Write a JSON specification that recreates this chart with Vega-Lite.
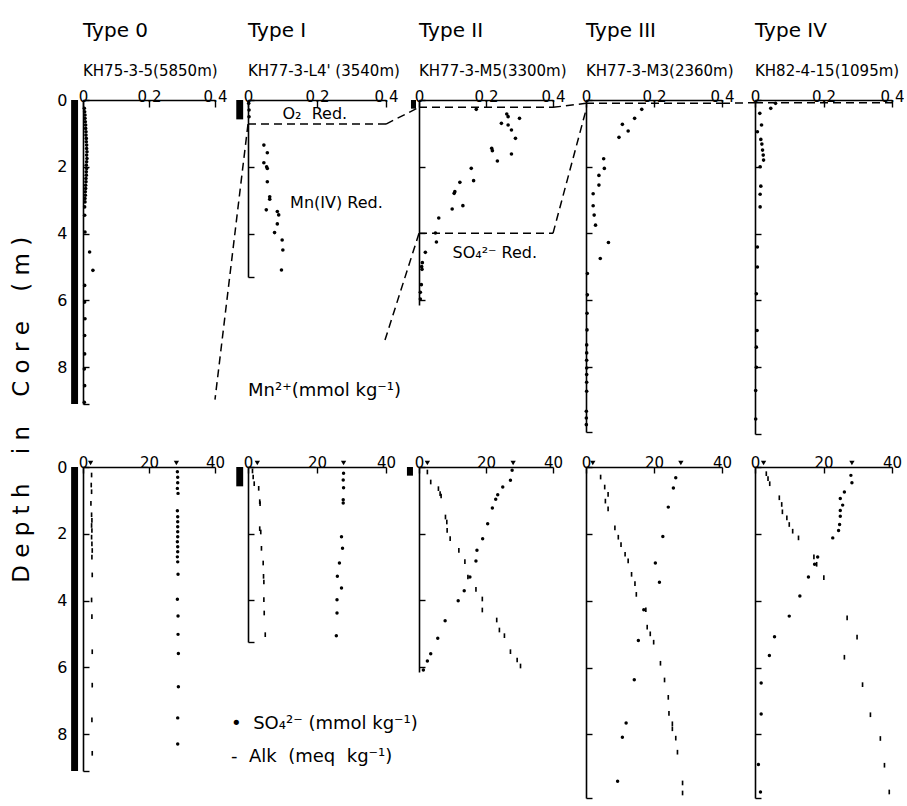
{
  "$schema": "https://vega.github.io/schema/vega-lite/v6.json",
  "background": "white",
  "padding": {"left": 10, "top": 21, "right": 0, "bottom": 4},
  "autosize": {"type": "pad"},
  "config": {
    "view": {"stroke": null},
    "font": "DejaVu Sans",
    "axis": {"domainColor": "black", "domainWidth": 1.6, "tickColor": "black", "tickWidth": 1.4, "labelColor": "black", "grid": false, "title": null, "labelFont": "DejaVu Sans", "labelFlush": false, "labelOverlap": false, "labelBound": false},
    "title": {"color": "black", "subtitleColor": "black", "anchor": "start", "frame": "group", "fontWeight": "normal", "fontSize": 20, "subtitleFontSize": 15, "subtitlePadding": 23, "offset": 10, "font": "DejaVu Sans", "subtitleFont": "DejaVu Sans"},
    "text": {"font": "DejaVu Sans", "color": "black"}
  },
  "title": {"text": "D e p t h \u00a0\u00a0 i n \u00a0\u00a0 C o r e \u00a0\u00a0 ( m )", "orient": "left", "anchor": "middle", "frame": "bounds", "fontSize": 23, "fontWeight": "normal", "offset": 23, "color": "black", "font": "DejaVu Sans"},
  "datasets": {
    "cores": [
      {"type": "0", "from": 0, "to": 9.1},
      {"type": "I", "from": 0, "to": 0.58},
      {"type": "II", "from": 0, "to": 0.26}
    ],
    "zones": [
      {"type": "I", "zone": "O2", "depth": 0.72},
      {"type": "II", "zone": "O2", "depth": 0.22},
      {"type": "II", "zone": "SO4", "depth": 4.0},
      {"type": "III", "zone": "O2", "depth": 0.1},
      {"type": "IV", "zone": "O2", "depth": 0.08}
    ],
    "notes": [
      {"id": "o2", "text": "O₂\u00a0 Red."},
      {"id": "mn4", "text": "Mn(IV) Red."},
      {"id": "mnunit", "text": "Mn²⁺(mmol kg⁻¹)"},
      {"id": "so4", "text": "SO₄²⁻ Red."},
      {"id": "so4unit", "text": "•\u00a0 SO₄²⁻ (mmol kg⁻¹)"},
      {"id": "alkunit", "text": "-\u00a0 Alk\u00a0 (meq\u00a0 kg⁻¹)"}
    ],
    "bw": [
      {"type": "0", "species": "Alk", "value": 2.3}, {"type": "0", "species": "SO4", "value": 28.3},
      {"type": "I", "species": "Alk", "value": 2.7}, {"type": "I", "species": "SO4", "value": 27.7},
      {"type": "II", "species": "Alk", "value": 2.5}, {"type": "II", "species": "SO4", "value": 28.1},
      {"type": "III", "species": "Alk", "value": 2.0}, {"type": "III", "species": "SO4", "value": 27.9},
      {"type": "IV", "species": "Alk", "value": 2.5}, {"type": "IV", "species": "SO4", "value": 28.3}
    ],
    "mn": [
      {"type": "0", "depth": 0.25, "mn": 0.004}, {"type": "0", "depth": 0.35, "mn": 0.005}, {"type": "0", "depth": 0.45, "mn": 0.006}, {"type": "0", "depth": 0.55, "mn": 0.006},
      {"type": "0", "depth": 0.65, "mn": 0.007}, {"type": "0", "depth": 0.75, "mn": 0.008}, {"type": "0", "depth": 0.85, "mn": 0.008}, {"type": "0", "depth": 0.95, "mn": 0.009},
      {"type": "0", "depth": 1.05, "mn": 0.009}, {"type": "0", "depth": 1.15, "mn": 0.01}, {"type": "0", "depth": 1.25, "mn": 0.01}, {"type": "0", "depth": 1.35, "mn": 0.011},
      {"type": "0", "depth": 1.45, "mn": 0.011}, {"type": "0", "depth": 1.55, "mn": 0.012}, {"type": "0", "depth": 1.65, "mn": 0.011}, {"type": "0", "depth": 1.75, "mn": 0.012},
      {"type": "0", "depth": 1.85, "mn": 0.011}, {"type": "0", "depth": 1.95, "mn": 0.01}, {"type": "0", "depth": 2.05, "mn": 0.011}, {"type": "0", "depth": 2.15, "mn": 0.01},
      {"type": "0", "depth": 2.25, "mn": 0.01}, {"type": "0", "depth": 2.35, "mn": 0.009}, {"type": "0", "depth": 2.45, "mn": 0.009}, {"type": "0", "depth": 2.55, "mn": 0.008},
      {"type": "0", "depth": 2.65, "mn": 0.008}, {"type": "0", "depth": 2.75, "mn": 0.007}, {"type": "0", "depth": 2.85, "mn": 0.007}, {"type": "0", "depth": 2.95, "mn": 0.006},
      {"type": "0", "depth": 3.05, "mn": 0.006}, {"type": "0", "depth": 3.2, "mn": 0.005}, {"type": "0", "depth": 3.45, "mn": 0.005}, {"type": "0", "depth": 3.95, "mn": 0.006},
      {"type": "0", "depth": 4.55, "mn": 0.02}, {"type": "0", "depth": 5.1, "mn": 0.03}, {"type": "0", "depth": 5.55, "mn": 0.005}, {"type": "0", "depth": 6.05, "mn": 0.005},
      {"type": "0", "depth": 6.55, "mn": 0.006}, {"type": "0", "depth": 7.05, "mn": 0.005}, {"type": "0", "depth": 7.6, "mn": 0.005}, {"type": "0", "depth": 8.05, "mn": 0.004},
      {"type": "0", "depth": 8.55, "mn": 0.005}, {"type": "0", "depth": 9.05, "mn": 0.004},
      {"type": "I", "depth": 0.1, "mn": 0.002}, {"type": "I", "depth": 0.3, "mn": 0.003}, {"type": "I", "depth": 0.5, "mn": 0.003},
      {"type": "I", "depth": 1.35, "mn": 0.046}, {"type": "I", "depth": 1.58, "mn": 0.056}, {"type": "I", "depth": 1.88, "mn": 0.046}, {"type": "I", "depth": 2.0, "mn": 0.054},
      {"type": "I", "depth": 2.05, "mn": 0.056}, {"type": "I", "depth": 2.45, "mn": 0.056}, {"type": "I", "depth": 2.9, "mn": 0.063}, {"type": "I", "depth": 2.97, "mn": 0.063},
      {"type": "I", "depth": 3.29, "mn": 0.053}, {"type": "I", "depth": 3.34, "mn": 0.085}, {"type": "I", "depth": 3.44, "mn": 0.089}, {"type": "I", "depth": 3.71, "mn": 0.085},
      {"type": "I", "depth": 3.97, "mn": 0.077}, {"type": "I", "depth": 4.19, "mn": 0.099}, {"type": "I", "depth": 4.49, "mn": 0.101}, {"type": "I", "depth": 5.09, "mn": 0.097},
      {"type": "II", "depth": 0.28, "mn": 0.171}, {"type": "II", "depth": 0.42, "mn": 0.262}, {"type": "II", "depth": 0.5, "mn": 0.266}, {"type": "II", "depth": 0.55, "mn": 0.3},
      {"type": "II", "depth": 0.7, "mn": 0.246}, {"type": "II", "depth": 0.75, "mn": 0.266}, {"type": "II", "depth": 0.9, "mn": 0.276}, {"type": "II", "depth": 1.15, "mn": 0.288},
      {"type": "II", "depth": 1.45, "mn": 0.217}, {"type": "II", "depth": 1.52, "mn": 0.219}, {"type": "II", "depth": 1.62, "mn": 0.276}, {"type": "II", "depth": 1.83, "mn": 0.234},
      {"type": "II", "depth": 2.05, "mn": 0.156}, {"type": "II", "depth": 2.42, "mn": 0.163}, {"type": "II", "depth": 2.47, "mn": 0.122}, {"type": "II", "depth": 2.75, "mn": 0.107},
      {"type": "II", "depth": 2.8, "mn": 0.105}, {"type": "II", "depth": 3.17, "mn": 0.131}, {"type": "II", "depth": 3.27, "mn": 0.099}, {"type": "II", "depth": 3.54, "mn": 0.059},
      {"type": "II", "depth": 3.99, "mn": 0.049}, {"type": "II", "depth": 4.26, "mn": 0.052}, {"type": "II", "depth": 4.57, "mn": 0.019}, {"type": "II", "depth": 4.88, "mn": 0.01},
      {"type": "II", "depth": 5.0, "mn": 0.008}, {"type": "II", "depth": 5.08, "mn": 0.009}, {"type": "II", "depth": 5.54, "mn": 0.007}, {"type": "II", "depth": 5.77, "mn": 0.004},
      {"type": "II", "depth": 5.97, "mn": 0.004},
      {"type": "III", "depth": 0.28, "mn": 0.164}, {"type": "III", "depth": 0.55, "mn": 0.143}, {"type": "III", "depth": 0.73, "mn": 0.107}, {"type": "III", "depth": 0.93, "mn": 0.124},
      {"type": "III", "depth": 1.12, "mn": 0.097}, {"type": "III", "depth": 1.76, "mn": 0.052}, {"type": "III", "depth": 2.05, "mn": 0.054}, {"type": "III", "depth": 2.26, "mn": 0.038},
      {"type": "III", "depth": 2.55, "mn": 0.038}, {"type": "III", "depth": 2.81, "mn": 0.021}, {"type": "III", "depth": 3.17, "mn": 0.021}, {"type": "III", "depth": 3.45, "mn": 0.024},
      {"type": "III", "depth": 3.75, "mn": 0.028}, {"type": "III", "depth": 4.27, "mn": 0.066}, {"type": "III", "depth": 4.75, "mn": 0.042}, {"type": "III", "depth": 5.2, "mn": 0.004},
      {"type": "III", "depth": 5.84, "mn": 0.004}, {"type": "III", "depth": 6.39, "mn": 0.003}, {"type": "III", "depth": 6.89, "mn": 0.003}, {"type": "III", "depth": 7.34, "mn": 0.002},
      {"type": "III", "depth": 7.58, "mn": 0.002}, {"type": "III", "depth": 7.8, "mn": 0.002}, {"type": "III", "depth": 8.03, "mn": 0.002}, {"type": "III", "depth": 8.23, "mn": 0.002},
      {"type": "III", "depth": 8.46, "mn": 0.002}, {"type": "III", "depth": 8.73, "mn": 0.002}, {"type": "III", "depth": 9.33, "mn": 0.001}, {"type": "III", "depth": 9.53, "mn": 0.001},
      {"type": "III", "depth": 9.73, "mn": 0.001},
      {"type": "IV", "depth": 0.1, "mn": 0.06}, {"type": "IV", "depth": 0.25, "mn": 0.046}, {"type": "IV", "depth": 0.4, "mn": 0.014}, {"type": "IV", "depth": 0.75, "mn": 0.019},
      {"type": "IV", "depth": 0.95, "mn": 0.007}, {"type": "IV", "depth": 1.18, "mn": 0.017}, {"type": "IV", "depth": 1.32, "mn": 0.02}, {"type": "IV", "depth": 1.5, "mn": 0.022},
      {"type": "IV", "depth": 1.65, "mn": 0.024}, {"type": "IV", "depth": 1.8, "mn": 0.025}, {"type": "IV", "depth": 2.0, "mn": 0.015}, {"type": "IV", "depth": 2.58, "mn": 0.017},
      {"type": "IV", "depth": 2.82, "mn": 0.015}, {"type": "IV", "depth": 3.2, "mn": 0.015}, {"type": "IV", "depth": 4.4, "mn": 0.007}, {"type": "IV", "depth": 5.0, "mn": 0.007},
      {"type": "IV", "depth": 5.8, "mn": 0.004}, {"type": "IV", "depth": 6.9, "mn": 0.006}, {"type": "IV", "depth": 7.4, "mn": 0.004}, {"type": "IV", "depth": 8.0, "mn": 0.004},
      {"type": "IV", "depth": 8.7, "mn": 0.002}, {"type": "IV", "depth": 9.55, "mn": 0.002}
    ],
    "pw": [
      {"type": "0", "species": "SO4", "depth": 0.14, "value": 28.6}, {"type": "0", "species": "SO4", "depth": 0.31, "value": 28.7}, {"type": "0", "species": "SO4", "depth": 0.47, "value": 28.7},
      {"type": "0", "species": "SO4", "depth": 0.64, "value": 28.6}, {"type": "0", "species": "SO4", "depth": 0.79, "value": 28.8}, {"type": "0", "species": "SO4", "depth": 1.31, "value": 28.6},
      {"type": "0", "species": "SO4", "depth": 1.49, "value": 28.7}, {"type": "0", "species": "SO4", "depth": 1.64, "value": 28.7}, {"type": "0", "species": "SO4", "depth": 1.79, "value": 28.7},
      {"type": "0", "species": "SO4", "depth": 1.94, "value": 28.7}, {"type": "0", "species": "SO4", "depth": 2.09, "value": 28.7}, {"type": "0", "species": "SO4", "depth": 2.24, "value": 28.6},
      {"type": "0", "species": "SO4", "depth": 2.39, "value": 28.7}, {"type": "0", "species": "SO4", "depth": 2.54, "value": 28.7}, {"type": "0", "species": "SO4", "depth": 2.69, "value": 28.6},
      {"type": "0", "species": "SO4", "depth": 2.84, "value": 28.7}, {"type": "0", "species": "SO4", "depth": 3.21, "value": 28.8}, {"type": "0", "species": "SO4", "depth": 3.96, "value": 28.6},
      {"type": "0", "species": "SO4", "depth": 4.46, "value": 28.8}, {"type": "0", "species": "SO4", "depth": 5.01, "value": 28.8}, {"type": "0", "species": "SO4", "depth": 5.58, "value": 28.9},
      {"type": "0", "species": "SO4", "depth": 6.58, "value": 28.9}, {"type": "0", "species": "SO4", "depth": 7.51, "value": 28.7}, {"type": "0", "species": "SO4", "depth": 8.29, "value": 28.7},
      {"type": "0", "species": "Alk", "depth": 0.24, "value": 2.6}, {"type": "0", "species": "Alk", "depth": 0.54, "value": 2.5}, {"type": "0", "species": "Alk", "depth": 0.74, "value": 2.6},
      {"type": "0", "species": "Alk", "depth": 1.09, "value": 2.4}, {"type": "0", "species": "Alk", "depth": 1.43, "value": 2.6}, {"type": "0", "species": "Alk", "depth": 1.6, "value": 2.7},
      {"type": "0", "species": "Alk", "depth": 1.75, "value": 2.6}, {"type": "0", "species": "Alk", "depth": 1.9, "value": 2.7}, {"type": "0", "species": "Alk", "depth": 2.1, "value": 2.6},
      {"type": "0", "species": "Alk", "depth": 2.3, "value": 2.7}, {"type": "0", "species": "Alk", "depth": 2.5, "value": 2.8}, {"type": "0", "species": "Alk", "depth": 2.7, "value": 2.7},
      {"type": "0", "species": "Alk", "depth": 3.23, "value": 2.8}, {"type": "0", "species": "Alk", "depth": 3.98, "value": 2.6}, {"type": "0", "species": "Alk", "depth": 4.48, "value": 2.7},
      {"type": "0", "species": "Alk", "depth": 5.53, "value": 2.8}, {"type": "0", "species": "Alk", "depth": 6.53, "value": 2.8}, {"type": "0", "species": "Alk", "depth": 7.57, "value": 2.7},
      {"type": "0", "species": "Alk", "depth": 8.57, "value": 2.8},
      {"type": "I", "species": "SO4", "depth": 0.19, "value": 27.7}, {"type": "I", "species": "SO4", "depth": 0.39, "value": 27.6}, {"type": "I", "species": "SO4", "depth": 0.62, "value": 27.7},
      {"type": "I", "species": "SO4", "depth": 0.98, "value": 27.6}, {"type": "I", "species": "SO4", "depth": 1.08, "value": 27.6}, {"type": "I", "species": "SO4", "depth": 2.09, "value": 27.1},
      {"type": "I", "species": "SO4", "depth": 2.44, "value": 27.4}, {"type": "I", "species": "SO4", "depth": 2.88, "value": 26.5}, {"type": "I", "species": "SO4", "depth": 3.28, "value": 25.9},
      {"type": "I", "species": "SO4", "depth": 3.63, "value": 27.1}, {"type": "I", "species": "SO4", "depth": 3.98, "value": 25.8}, {"type": "I", "species": "SO4", "depth": 4.38, "value": 25.8},
      {"type": "I", "species": "SO4", "depth": 5.06, "value": 25.6},
      {"type": "I", "species": "Alk", "depth": 0.12, "value": 1.3}, {"type": "I", "species": "Alk", "depth": 0.3, "value": 1.5}, {"type": "I", "species": "Alk", "depth": 0.5, "value": 1.8},
      {"type": "I", "species": "Alk", "depth": 0.64, "value": 3.1}, {"type": "I", "species": "Alk", "depth": 1.04, "value": 3.4}, {"type": "I", "species": "Alk", "depth": 1.1, "value": 3.5},
      {"type": "I", "species": "Alk", "depth": 1.85, "value": 3.4}, {"type": "I", "species": "Alk", "depth": 1.95, "value": 3.7}, {"type": "I", "species": "Alk", "depth": 2.44, "value": 3.9},
      {"type": "I", "species": "Alk", "depth": 2.88, "value": 4.4}, {"type": "I", "species": "Alk", "depth": 3.28, "value": 4.5}, {"type": "I", "species": "Alk", "depth": 3.45, "value": 4.6},
      {"type": "I", "species": "Alk", "depth": 3.98, "value": 4.6}, {"type": "I", "species": "Alk", "depth": 4.38, "value": 4.7}, {"type": "I", "species": "Alk", "depth": 5.03, "value": 5.0},
      {"type": "II", "species": "SO4", "depth": 0.1, "value": 27.8}, {"type": "II", "species": "SO4", "depth": 0.4, "value": 27.3}, {"type": "II", "species": "SO4", "depth": 0.6, "value": 25.0},
      {"type": "II", "species": "SO4", "depth": 0.83, "value": 23.5}, {"type": "II", "species": "SO4", "depth": 0.97, "value": 22.9}, {"type": "II", "species": "SO4", "depth": 1.23, "value": 21.9},
      {"type": "II", "species": "SO4", "depth": 1.7, "value": 20.5}, {"type": "II", "species": "SO4", "depth": 2.15, "value": 19.0}, {"type": "II", "species": "SO4", "depth": 2.5, "value": 17.3},
      {"type": "II", "species": "SO4", "depth": 2.82, "value": 17.0}, {"type": "II", "species": "SO4", "depth": 3.3, "value": 15.2}, {"type": "II", "species": "SO4", "depth": 3.71, "value": 13.5},
      {"type": "II", "species": "SO4", "depth": 4.01, "value": 11.7}, {"type": "II", "species": "SO4", "depth": 4.61, "value": 7.8}, {"type": "II", "species": "SO4", "depth": 5.14, "value": 5.6},
      {"type": "II", "species": "SO4", "depth": 5.6, "value": 3.5}, {"type": "II", "species": "SO4", "depth": 5.82, "value": 2.5}, {"type": "II", "species": "SO4", "depth": 6.09, "value": 1.3},
      {"type": "II", "species": "Alk", "depth": 0.15, "value": 2.5}, {"type": "II", "species": "Alk", "depth": 0.45, "value": 3.5}, {"type": "II", "species": "Alk", "depth": 0.65, "value": 5.8},
      {"type": "II", "species": "Alk", "depth": 0.8, "value": 6.3}, {"type": "II", "species": "Alk", "depth": 0.87, "value": 6.6}, {"type": "II", "species": "Alk", "depth": 1.5, "value": 7.9},
      {"type": "II", "species": "Alk", "depth": 1.65, "value": 8.3}, {"type": "II", "species": "Alk", "depth": 1.9, "value": 8.4}, {"type": "II", "species": "Alk", "depth": 2.15, "value": 9.3},
      {"type": "II", "species": "Alk", "depth": 2.5, "value": 11.9}, {"type": "II", "species": "Alk", "depth": 2.84, "value": 13.7}, {"type": "II", "species": "Alk", "depth": 3.3, "value": 14.6},
      {"type": "II", "species": "Alk", "depth": 3.67, "value": 17.0}, {"type": "II", "species": "Alk", "depth": 3.96, "value": 18.9}, {"type": "II", "species": "Alk", "depth": 4.29, "value": 18.9},
      {"type": "II", "species": "Alk", "depth": 4.59, "value": 23.2}, {"type": "II", "species": "Alk", "depth": 4.89, "value": 24.0}, {"type": "II", "species": "Alk", "depth": 5.06, "value": 25.5},
      {"type": "II", "species": "Alk", "depth": 5.54, "value": 27.3}, {"type": "II", "species": "Alk", "depth": 5.79, "value": 29.3}, {"type": "II", "species": "Alk", "depth": 5.97, "value": 30.3},
      {"type": "III", "species": "SO4", "depth": 0.32, "value": 26.4}, {"type": "III", "species": "SO4", "depth": 0.63, "value": 25.7}, {"type": "III", "species": "SO4", "depth": 1.2, "value": 24.2},
      {"type": "III", "species": "SO4", "depth": 2.08, "value": 22.6}, {"type": "III", "species": "SO4", "depth": 2.87, "value": 20.4}, {"type": "III", "species": "SO4", "depth": 3.45, "value": 21.6},
      {"type": "III", "species": "SO4", "depth": 4.27, "value": 17.0}, {"type": "III", "species": "SO4", "depth": 5.19, "value": 15.4}, {"type": "III", "species": "SO4", "depth": 6.36, "value": 14.2},
      {"type": "III", "species": "SO4", "depth": 7.66, "value": 11.8}, {"type": "III", "species": "SO4", "depth": 8.08, "value": 10.7}, {"type": "III", "species": "SO4", "depth": 9.4, "value": 9.3},
      {"type": "III", "species": "Alk", "depth": 0.3, "value": 4.3}, {"type": "III", "species": "Alk", "depth": 0.6, "value": 5.5}, {"type": "III", "species": "Alk", "depth": 0.82, "value": 6.5},
      {"type": "III", "species": "Alk", "depth": 1.02, "value": 5.7}, {"type": "III", "species": "Alk", "depth": 1.25, "value": 6.5}, {"type": "III", "species": "Alk", "depth": 1.82, "value": 8.5},
      {"type": "III", "species": "Alk", "depth": 2.1, "value": 9.5}, {"type": "III", "species": "Alk", "depth": 2.32, "value": 10.3}, {"type": "III", "species": "Alk", "depth": 2.61, "value": 11.5},
      {"type": "III", "species": "Alk", "depth": 2.81, "value": 12.4}, {"type": "III", "species": "Alk", "depth": 3.21, "value": 13.4}, {"type": "III", "species": "Alk", "depth": 3.49, "value": 14.4},
      {"type": "III", "species": "Alk", "depth": 3.81, "value": 14.8}, {"type": "III", "species": "Alk", "depth": 4.27, "value": 17.6}, {"type": "III", "species": "Alk", "depth": 4.79, "value": 18.0},
      {"type": "III", "species": "Alk", "depth": 4.99, "value": 18.9}, {"type": "III", "species": "Alk", "depth": 5.24, "value": 19.9}, {"type": "III", "species": "Alk", "depth": 5.87, "value": 21.9},
      {"type": "III", "species": "Alk", "depth": 6.37, "value": 23.1}, {"type": "III", "species": "Alk", "depth": 6.89, "value": 24.2}, {"type": "III", "species": "Alk", "depth": 7.37, "value": 24.4},
      {"type": "III", "species": "Alk", "depth": 7.68, "value": 25.4}, {"type": "III", "species": "Alk", "depth": 7.83, "value": 25.4}, {"type": "III", "species": "Alk", "depth": 8.11, "value": 26.4},
      {"type": "III", "species": "Alk", "depth": 8.53, "value": 26.9}, {"type": "III", "species": "Alk", "depth": 9.45, "value": 28.4}, {"type": "III", "species": "Alk", "depth": 9.75, "value": 28.4},
      {"type": "IV", "species": "SO4", "depth": 0.25, "value": 28.0}, {"type": "IV", "species": "SO4", "depth": 0.47, "value": 28.3}, {"type": "IV", "species": "SO4", "depth": 0.75, "value": 26.1},
      {"type": "IV", "species": "SO4", "depth": 0.94, "value": 24.9}, {"type": "IV", "species": "SO4", "depth": 1.14, "value": 25.6}, {"type": "IV", "species": "SO4", "depth": 1.3, "value": 24.9},
      {"type": "IV", "species": "SO4", "depth": 1.47, "value": 24.9}, {"type": "IV", "species": "SO4", "depth": 1.72, "value": 24.7}, {"type": "IV", "species": "SO4", "depth": 1.9, "value": 24.4},
      {"type": "IV", "species": "SO4", "depth": 2.12, "value": 22.7}, {"type": "IV", "species": "SO4", "depth": 2.69, "value": 18.3}, {"type": "IV", "species": "SO4", "depth": 2.91, "value": 17.4},
      {"type": "IV", "species": "SO4", "depth": 3.29, "value": 15.6}, {"type": "IV", "species": "SO4", "depth": 3.86, "value": 13.1}, {"type": "IV", "species": "SO4", "depth": 4.46, "value": 10.0},
      {"type": "IV", "species": "SO4", "depth": 5.08, "value": 5.7}, {"type": "IV", "species": "SO4", "depth": 5.64, "value": 4.2}, {"type": "IV", "species": "SO4", "depth": 6.46, "value": 1.8},
      {"type": "IV", "species": "SO4", "depth": 7.39, "value": 1.8}, {"type": "IV", "species": "SO4", "depth": 8.9, "value": 1.0}, {"type": "IV", "species": "SO4", "depth": 9.72, "value": 1.6},
      {"type": "IV", "species": "Alk", "depth": 0.2, "value": 3.3}, {"type": "IV", "species": "Alk", "depth": 0.35, "value": 3.8}, {"type": "IV", "species": "Alk", "depth": 0.5, "value": 4.3},
      {"type": "IV", "species": "Alk", "depth": 0.92, "value": 7.1}, {"type": "IV", "species": "Alk", "depth": 1.12, "value": 7.8}, {"type": "IV", "species": "Alk", "depth": 1.34, "value": 8.0},
      {"type": "IV", "species": "Alk", "depth": 1.52, "value": 9.3}, {"type": "IV", "species": "Alk", "depth": 1.72, "value": 10.0}, {"type": "IV", "species": "Alk", "depth": 1.92, "value": 11.0},
      {"type": "IV", "species": "Alk", "depth": 2.12, "value": 12.7}, {"type": "IV", "species": "Alk", "depth": 2.69, "value": 17.2}, {"type": "IV", "species": "Alk", "depth": 2.91, "value": 18.0},
      {"type": "IV", "species": "Alk", "depth": 3.31, "value": 20.1}, {"type": "IV", "species": "Alk", "depth": 4.51, "value": 26.9}, {"type": "IV", "species": "Alk", "depth": 5.09, "value": 29.8},
      {"type": "IV", "species": "Alk", "depth": 5.69, "value": 26.1}, {"type": "IV", "species": "Alk", "depth": 6.51, "value": 31.4}, {"type": "IV", "species": "Alk", "depth": 7.41, "value": 33.7},
      {"type": "IV", "species": "Alk", "depth": 8.12, "value": 36.6}, {"type": "IV", "species": "Alk", "depth": 8.92, "value": 37.8}, {"type": "IV", "species": "Alk", "depth": 9.72, "value": 39.2}
    ]
  },
  "columns": 5,
  "align": "each",
  "bounds": "flush",
  "spacing": {"row": 33, "column": 33},
  "resolve": {"scale": {"x": "independent", "y": "independent"}},
  "concat": [
    {
      "width": 132, "height": 304,
      "title": {"text": "Type 0", "subtitle": "KH75-3-5(5850m)"},
      "layer": [
        {"data": {"name": "mn"}, "transform": [{"filter": "datum.type == '0'"}],
         "mark": {"type": "point", "filled": true, "color": "black", "size": 13, "opacity": 1, "clip": false},
         "encoding": {
           "x": {"field": "mn", "type": "quantitative", "scale": {"domain": [0, 0.4], "nice": false, "zero": false},
                 "axis": {"orient": "top", "values": [0, 0.1, 0.2, 0.3, 0.4], "labelExpr": "datum.value == 0 ? '0' : (round(datum.value*10) % 2 == 0 ? format(datum.value, '.1f') : '')", "tickSize": -7, "labelPadding": 3, "labelFontSize": 15}},
           "y": {"field": "depth", "type": "quantitative", "scale": {"domain": [0, 9.1], "reverse": true, "nice": false, "zero": false},
                 "axis": {"values": [0, 1, 2, 3, 4, 5, 6, 7, 8, 9, 9.1], "labelExpr": "datum.value % 2 == 0 ? datum.label : ''", "tickSize": -6, "labelPadding": 22, "labelFontSize": 16}}
         }},
        {"data": {"name": "cores"}, "transform": [{"filter": "datum.type == '0'"}],
         "mark": {"type": "rect", "color": "black", "clip": false},
         "encoding": {"x": {"datum": -0.036, "type": "quantitative"}, "x2": {"datum": -0.015}, "y": {"field": "from", "type": "quantitative"}, "y2": {"field": "to"}}}
      ]
    },
    {
      "width": 138, "height": 177,
      "title": {"text": "Type I", "subtitle": "KH77-3-L4' (3540m)"},
      "layer": [
        {"data": {"name": "mn"}, "transform": [{"filter": "datum.type == 'I'"}],
         "mark": {"type": "point", "filled": true, "color": "black", "size": 13, "opacity": 1, "clip": false},
         "encoding": {
           "x": {"field": "mn", "type": "quantitative", "scale": {"domain": [0, 0.4], "nice": false, "zero": false},
                 "axis": {"orient": "top", "values": [0, 0.1, 0.2, 0.3, 0.4], "labelExpr": "datum.value == 0 ? '0' : (round(datum.value*10) % 2 == 0 ? format(datum.value, '.1f') : '')", "tickSize": -7, "labelPadding": 3, "labelFontSize": 15}},
           "y": {"field": "depth", "type": "quantitative", "scale": {"domain": [0, 5.3], "reverse": true, "nice": false, "zero": false},
                 "axis": {"values": [0, 1, 2, 3, 4, 5, 5.3], "labels": false, "tickSize": -6}}
         }},
        {"data": {"name": "cores"}, "transform": [{"filter": "datum.type == 'I'"}],
         "mark": {"type": "rect", "color": "black", "clip": false},
         "encoding": {"x": {"datum": -0.034, "type": "quantitative"}, "x2": {"datum": -0.014}, "y": {"field": "from", "type": "quantitative"}, "y2": {"field": "to"}}},
        {"data": {"name": "zones"}, "transform": [{"filter": "datum.type == 'I'"}],
         "mark": {"type": "rule", "color": "black", "strokeWidth": 1.5, "strokeDash": [8, 5], "clip": false},
         "encoding": {"x": {"datum": 0, "type": "quantitative"}, "x2": {"datum": 0.4}, "y": {"field": "depth", "type": "quantitative"}}},
        {"data": {"name": "zones"}, "transform": [{"filter": "datum.type == 'I'"}],
         "mark": {"type": "rule", "color": "black", "strokeWidth": 1.5, "strokeDash": [8, 5], "clip": false},
         "encoding": {"x": {"datum": 0, "type": "quantitative"}, "y": {"field": "depth", "type": "quantitative"}, "x2": {"datum": -0.0957}, "y2": {"datum": 8.97}}},
        {"data": {"name": "zones"}, "transform": [{"filter": "datum.type == 'I'"}],
         "mark": {"type": "rule", "color": "black", "strokeWidth": 1.5, "strokeDash": [8, 5], "clip": false},
         "encoding": {"x": {"datum": 0.4, "type": "quantitative"}, "y": {"field": "depth", "type": "quantitative"}, "x2": {"datum": 0.4957}, "y2": {"datum": 0.22}}},
        {"data": {"name": "notes"}, "transform": [{"filter": "datum.id == 'o2'"}],
         "mark": {"type": "text", "align": "left", "baseline": "middle", "fontSize": 16, "clip": false},
         "encoding": {"x": {"datum": 0.1, "type": "quantitative"}, "y": {"datum": 0.42, "type": "quantitative"}, "text": {"field": "text"}}},
        {"data": {"name": "notes"}, "transform": [{"filter": "datum.id == 'mn4'"}],
         "mark": {"type": "text", "align": "left", "baseline": "middle", "fontSize": 16, "clip": false},
         "encoding": {"x": {"datum": 0.122, "type": "quantitative"}, "y": {"datum": 3.07, "type": "quantitative"}, "text": {"field": "text"}}},
        {"data": {"name": "notes"}, "transform": [{"filter": "datum.id == 'mnunit'"}],
         "mark": {"type": "text", "align": "left", "baseline": "middle", "fontSize": 18, "clip": false},
         "encoding": {"x": {"datum": 0, "type": "quantitative"}, "y": {"datum": 8.7, "type": "quantitative"}, "text": {"field": "text"}}}
      ]
    },
    {
      "width": 134, "height": 205,
      "title": {"text": "Type II", "subtitle": "KH77-3-M5(3300m)"},
      "layer": [
        {"data": {"name": "mn"}, "transform": [{"filter": "datum.type == 'II'"}],
         "mark": {"type": "point", "filled": true, "color": "black", "size": 13, "opacity": 1, "clip": false},
         "encoding": {
           "x": {"field": "mn", "type": "quantitative", "scale": {"domain": [0, 0.4], "nice": false, "zero": false},
                 "axis": {"orient": "top", "values": [0, 0.1, 0.2, 0.3, 0.4], "labelExpr": "datum.value == 0 ? '0' : (round(datum.value*10) % 2 == 0 ? format(datum.value, '.1f') : '')", "tickSize": -7, "labelPadding": 3, "labelFontSize": 15}},
           "y": {"field": "depth", "type": "quantitative", "scale": {"domain": [0, 6.15], "reverse": true, "nice": false, "zero": false},
                 "axis": {"values": [0, 1, 2, 3, 4, 5, 6, 6.15], "labels": false, "tickSize": -6}}
         }},
        {"data": {"name": "cores"}, "transform": [{"filter": "datum.type == 'II'"}],
         "mark": {"type": "rect", "color": "black", "clip": false},
         "encoding": {"x": {"datum": -0.024, "type": "quantitative"}, "x2": {"datum": -0.009}, "y": {"field": "from", "type": "quantitative"}, "y2": {"field": "to"}}},
        {"data": {"name": "zones"}, "transform": [{"filter": "datum.type == 'II'"}],
         "mark": {"type": "rule", "color": "black", "strokeWidth": 1.5, "strokeDash": [8, 5], "clip": false},
         "encoding": {"x": {"datum": 0, "type": "quantitative"}, "x2": {"datum": 0.4}, "y": {"field": "depth", "type": "quantitative"}}},
        {"data": {"name": "zones"}, "transform": [{"filter": "datum.type == 'II' && datum.zone == 'SO4'"}],
         "mark": {"type": "rule", "color": "black", "strokeWidth": 1.5, "strokeDash": [8, 5], "clip": false},
         "encoding": {"x": {"datum": 0, "type": "quantitative"}, "y": {"field": "depth", "type": "quantitative"}, "x2": {"datum": -0.1015}, "y2": {"datum": 7.2}}},
        {"data": {"name": "zones"}, "transform": [{"filter": "datum.type == 'II' && datum.zone == 'SO4'"}],
         "mark": {"type": "rule", "color": "black", "strokeWidth": 1.5, "strokeDash": [8, 5], "clip": false},
         "encoding": {"x": {"datum": 0.4, "type": "quantitative"}, "y": {"field": "depth", "type": "quantitative"}, "x2": {"datum": 0.4985}, "y2": {"datum": 0.3}}},
        {"data": {"name": "zones"}, "transform": [{"filter": "datum.type == 'II' && datum.zone == 'O2'"}],
         "mark": {"type": "rule", "color": "black", "strokeWidth": 1.5, "strokeDash": [8, 5], "clip": false},
         "encoding": {"x": {"datum": 0.4, "type": "quantitative"}, "y": {"field": "depth", "type": "quantitative"}, "x2": {"datum": 0.4985}, "y2": {"datum": 0.1}}},
        {"data": {"name": "notes"}, "transform": [{"filter": "datum.id == 'so4'"}],
         "mark": {"type": "text", "align": "left", "baseline": "middle", "fontSize": 16, "clip": false},
         "encoding": {"x": {"datum": 0.1, "type": "quantitative"}, "y": {"datum": 4.6, "type": "quantitative"}, "text": {"field": "text"}}}
      ]
    },
    {
      "width": 136, "height": 332,
      "title": {"text": "Type III", "subtitle": "KH77-3-M3(2360m)"},
      "layer": [
        {"data": {"name": "mn"}, "transform": [{"filter": "datum.type == 'III'"}],
         "mark": {"type": "point", "filled": true, "color": "black", "size": 13, "opacity": 1, "clip": false},
         "encoding": {
           "x": {"field": "mn", "type": "quantitative", "scale": {"domain": [0, 0.4], "nice": false, "zero": false},
                 "axis": {"orient": "top", "values": [0, 0.1, 0.2, 0.3, 0.4], "labelExpr": "datum.value == 0 ? '0' : (round(datum.value*10) % 2 == 0 ? format(datum.value, '.1f') : '')", "tickSize": -7, "labelPadding": 3, "labelFontSize": 15}},
           "y": {"field": "depth", "type": "quantitative", "scale": {"domain": [0, 9.95], "reverse": true, "nice": false, "zero": false},
                 "axis": {"values": [0, 1, 2, 3, 4, 5, 6, 7, 8, 9, 9.95], "labels": false, "tickSize": -6}}
         }},
        {"data": {"name": "zones"}, "transform": [{"filter": "datum.type == 'III'"}],
         "mark": {"type": "rule", "color": "black", "strokeWidth": 1.5, "strokeDash": [8, 5], "clip": false},
         "encoding": {"x": {"datum": 0, "type": "quantitative"}, "x2": {"datum": 0.4}, "y": {"field": "depth", "type": "quantitative"}}},
        {"data": {"name": "zones"}, "transform": [{"filter": "datum.type == 'III'"}],
         "mark": {"type": "rule", "color": "black", "strokeWidth": 1.5, "strokeDash": [8, 5], "clip": false},
         "encoding": {"x": {"datum": 0.4, "type": "quantitative"}, "y": {"field": "depth", "type": "quantitative"}, "x2": {"datum": 0.497}, "y2": {"datum": 0.08}}}
      ]
    },
    {
      "width": 137, "height": 334,
      "title": {"text": "Type IV", "subtitle": "KH82-4-15(1095m)"},
      "layer": [
        {"data": {"name": "mn"}, "transform": [{"filter": "datum.type == 'IV'"}],
         "mark": {"type": "point", "filled": true, "color": "black", "size": 13, "opacity": 1, "clip": false},
         "encoding": {
           "x": {"field": "mn", "type": "quantitative", "scale": {"domain": [0, 0.4], "nice": false, "zero": false},
                 "axis": {"orient": "top", "values": [0, 0.1, 0.2, 0.3, 0.4], "labelExpr": "datum.value == 0 ? '0' : (round(datum.value*10) % 2 == 0 ? format(datum.value, '.1f') : '')", "tickSize": -7, "labelPadding": 3, "labelFontSize": 15}},
           "y": {"field": "depth", "type": "quantitative", "scale": {"domain": [0, 10], "reverse": true, "nice": false, "zero": false},
                 "axis": {"values": [0, 1, 2, 3, 4, 5, 6, 7, 8, 9, 10], "labels": false, "tickSize": -6}}
         }},
        {"data": {"name": "zones"}, "transform": [{"filter": "datum.type == 'IV'"}],
         "mark": {"type": "rule", "color": "black", "strokeWidth": 1.5, "strokeDash": [8, 5], "clip": false},
         "encoding": {"x": {"datum": 0, "type": "quantitative"}, "x2": {"datum": 0.4}, "y": {"field": "depth", "type": "quantitative"}}}
      ]
    },
    {
      "width": 132, "height": 304,
      "layer": [
        {"data": {"name": "pw"}, "transform": [{"filter": "datum.type == '0' && datum.species == 'SO4'"}],
         "mark": {"type": "point", "filled": true, "color": "black", "size": 12, "opacity": 1, "clip": false},
         "encoding": {
           "x": {"field": "value", "type": "quantitative", "scale": {"domain": [0, 40], "nice": false, "zero": false},
                 "axis": {"orient": "top", "values": [0, 10, 20, 30, 40], "labelExpr": "datum.value % 20 == 0 ? datum.label : ''", "tickSize": -6, "labelPadding": 3, "labelFontSize": 15}},
           "y": {"field": "depth", "type": "quantitative", "scale": {"domain": [0, 9.1], "reverse": true, "nice": false, "zero": false},
                 "axis": {"values": [0, 1, 2, 3, 4, 5, 6, 7, 8, 9, 9.1], "labelExpr": "datum.value % 2 == 0 ? datum.label : ''", "tickSize": -6, "labelPadding": 22, "labelFontSize": 16}}
         }},
        {"data": {"name": "pw"}, "transform": [{"filter": "datum.type == '0' && datum.species == 'Alk'"}],
         "mark": {"type": "point", "filled": true, "color": "black", "size": 22, "opacity": 1, "shape": "M-0.35,-1L0.35,-1L0.35,1L-0.35,1Z", "clip": false},
         "encoding": {"x": {"field": "value", "type": "quantitative"}, "y": {"field": "depth", "type": "quantitative"}}},
        {"data": {"name": "bw"}, "transform": [{"filter": "datum.type == '0'"}],
         "mark": {"type": "point", "filled": true, "color": "black", "size": 28, "opacity": 1, "shape": "triangle-down", "yOffset": -4, "clip": false},
         "encoding": {"x": {"field": "value", "type": "quantitative"}, "y": {"datum": 0, "type": "quantitative"}}},
        {"data": {"name": "cores"}, "transform": [{"filter": "datum.type == '0'"}],
         "mark": {"type": "rect", "color": "black", "clip": false},
         "encoding": {"x": {"datum": -3.6, "type": "quantitative"}, "x2": {"datum": -1.5}, "y": {"field": "from", "type": "quantitative"}, "y2": {"field": "to"}}}
      ]
    },
    {
      "width": 138, "height": 175,
      "layer": [
        {"data": {"name": "pw"}, "transform": [{"filter": "datum.type == 'I' && datum.species == 'SO4'"}],
         "mark": {"type": "point", "filled": true, "color": "black", "size": 12, "opacity": 1, "clip": false},
         "encoding": {
           "x": {"field": "value", "type": "quantitative", "scale": {"domain": [0, 40], "nice": false, "zero": false},
                 "axis": {"orient": "top", "values": [0, 5, 10, 15, 20, 25, 30, 35, 40], "labelExpr": "datum.value % 20 == 0 ? datum.label : ''", "tickSize": -6, "labelPadding": 3, "labelFontSize": 15}},
           "y": {"field": "depth", "type": "quantitative", "scale": {"domain": [0, 5.25], "reverse": true, "nice": false, "zero": false},
                 "axis": {"values": [0, 1, 2, 3, 4, 5, 5.25], "labels": false, "tickSize": -6}}
         }},
        {"data": {"name": "pw"}, "transform": [{"filter": "datum.type == 'I' && datum.species == 'Alk'"}],
         "mark": {"type": "point", "filled": true, "color": "black", "size": 22, "opacity": 1, "shape": "M-0.35,-1L0.35,-1L0.35,1L-0.35,1Z", "clip": false},
         "encoding": {"x": {"field": "value", "type": "quantitative"}, "y": {"field": "depth", "type": "quantitative"}}},
        {"data": {"name": "bw"}, "transform": [{"filter": "datum.type == 'I'"}],
         "mark": {"type": "point", "filled": true, "color": "black", "size": 28, "opacity": 1, "shape": "triangle-down", "yOffset": -4, "clip": false},
         "encoding": {"x": {"field": "value", "type": "quantitative"}, "y": {"datum": 0, "type": "quantitative"}}},
        {"data": {"name": "cores"}, "transform": [{"filter": "datum.type == 'I'"}],
         "mark": {"type": "rect", "color": "black", "clip": false},
         "encoding": {"x": {"datum": -3.4, "type": "quantitative"}, "x2": {"datum": -1.4}, "y": {"field": "from", "type": "quantitative"}, "y2": {"field": "to"}}},
        {"data": {"name": "notes"}, "transform": [{"filter": "datum.id == 'so4unit'"}],
         "mark": {"type": "text", "align": "left", "baseline": "middle", "fontSize": 18, "clip": false},
         "encoding": {"x": {"datum": -4.9, "type": "quantitative"}, "y": {"datum": 7.7, "type": "quantitative"}, "text": {"field": "text"}}},
        {"data": {"name": "notes"}, "transform": [{"filter": "datum.id == 'alkunit'"}],
         "mark": {"type": "text", "align": "left", "baseline": "middle", "fontSize": 18, "clip": false},
         "encoding": {"x": {"datum": -4.9, "type": "quantitative"}, "y": {"datum": 8.7, "type": "quantitative"}, "text": {"field": "text"}}}
      ]
    },
    {
      "width": 134, "height": 205,
      "layer": [
        {"data": {"name": "pw"}, "transform": [{"filter": "datum.type == 'II' && datum.species == 'SO4'"}],
         "mark": {"type": "point", "filled": true, "color": "black", "size": 12, "opacity": 1, "clip": false},
         "encoding": {
           "x": {"field": "value", "type": "quantitative", "scale": {"domain": [0, 40], "nice": false, "zero": false},
                 "axis": {"orient": "top", "values": [0, 5, 10, 15, 20, 25, 30, 35, 40], "labelExpr": "datum.value % 20 == 0 ? datum.label : ''", "tickSize": -6, "labelPadding": 3, "labelFontSize": 15}},
           "y": {"field": "depth", "type": "quantitative", "scale": {"domain": [0, 6.15], "reverse": true, "nice": false, "zero": false},
                 "axis": {"values": [0, 1, 2, 3, 4, 5, 6, 6.15], "labels": false, "tickSize": -6}}
         }},
        {"data": {"name": "pw"}, "transform": [{"filter": "datum.type == 'II' && datum.species == 'Alk'"}],
         "mark": {"type": "point", "filled": true, "color": "black", "size": 22, "opacity": 1, "shape": "M-0.35,-1L0.35,-1L0.35,1L-0.35,1Z", "clip": false},
         "encoding": {"x": {"field": "value", "type": "quantitative"}, "y": {"field": "depth", "type": "quantitative"}}},
        {"data": {"name": "bw"}, "transform": [{"filter": "datum.type == 'II'"}],
         "mark": {"type": "point", "filled": true, "color": "black", "size": 28, "opacity": 1, "shape": "triangle-down", "yOffset": -4, "clip": false},
         "encoding": {"x": {"field": "value", "type": "quantitative"}, "y": {"datum": 0, "type": "quantitative"}}},
        {"data": {"name": "cores"}, "transform": [{"filter": "datum.type == 'II'"}],
         "mark": {"type": "rect", "color": "black", "clip": false},
         "encoding": {"x": {"datum": -3.6, "type": "quantitative"}, "x2": {"datum": -1.8}, "y": {"field": "from", "type": "quantitative"}, "y2": {"field": "to"}}}
      ]
    },
    {
      "width": 136, "height": 331,
      "layer": [
        {"data": {"name": "pw"}, "transform": [{"filter": "datum.type == 'III' && datum.species == 'SO4'"}],
         "mark": {"type": "point", "filled": true, "color": "black", "size": 12, "opacity": 1, "clip": false},
         "encoding": {
           "x": {"field": "value", "type": "quantitative", "scale": {"domain": [0, 40], "nice": false, "zero": false},
                 "axis": {"orient": "top", "values": [0, 5, 10, 15, 20, 25, 30, 35, 40], "labelExpr": "datum.value % 20 == 0 ? datum.label : ''", "tickSize": -6, "labelPadding": 3, "labelFontSize": 15}},
           "y": {"field": "depth", "type": "quantitative", "scale": {"domain": [0, 9.9], "reverse": true, "nice": false, "zero": false},
                 "axis": {"values": [0, 1, 2, 3, 4, 5, 6, 7, 8, 9, 9.9], "labels": false, "tickSize": -6}}
         }},
        {"data": {"name": "pw"}, "transform": [{"filter": "datum.type == 'III' && datum.species == 'Alk'"}],
         "mark": {"type": "point", "filled": true, "color": "black", "size": 22, "opacity": 1, "shape": "M-0.35,-1L0.35,-1L0.35,1L-0.35,1Z", "clip": false},
         "encoding": {"x": {"field": "value", "type": "quantitative"}, "y": {"field": "depth", "type": "quantitative"}}},
        {"data": {"name": "bw"}, "transform": [{"filter": "datum.type == 'III'"}],
         "mark": {"type": "point", "filled": true, "color": "black", "size": 28, "opacity": 1, "shape": "triangle-down", "yOffset": -4, "clip": false},
         "encoding": {"x": {"field": "value", "type": "quantitative"}, "y": {"datum": 0, "type": "quantitative"}}}
      ]
    },
    {
      "width": 137, "height": 331,
      "layer": [
        {"data": {"name": "pw"}, "transform": [{"filter": "datum.type == 'IV' && datum.species == 'SO4'"}],
         "mark": {"type": "point", "filled": true, "color": "black", "size": 12, "opacity": 1, "clip": false},
         "encoding": {
           "x": {"field": "value", "type": "quantitative", "scale": {"domain": [0, 40], "nice": false, "zero": false},
                 "axis": {"orient": "top", "values": [0, 5, 10, 15, 20, 25, 30, 35, 40], "labelExpr": "datum.value % 20 == 0 ? datum.label : ''", "tickSize": -6, "labelPadding": 3, "labelFontSize": 15}},
           "y": {"field": "depth", "type": "quantitative", "scale": {"domain": [0, 9.9], "reverse": true, "nice": false, "zero": false},
                 "axis": {"values": [0, 1, 2, 3, 4, 5, 6, 7, 8, 9, 9.9], "labels": false, "tickSize": -6}}
         }},
        {"data": {"name": "pw"}, "transform": [{"filter": "datum.type == 'IV' && datum.species == 'Alk'"}],
         "mark": {"type": "point", "filled": true, "color": "black", "size": 22, "opacity": 1, "shape": "M-0.35,-1L0.35,-1L0.35,1L-0.35,1Z", "clip": false},
         "encoding": {"x": {"field": "value", "type": "quantitative"}, "y": {"field": "depth", "type": "quantitative"}}},
        {"data": {"name": "bw"}, "transform": [{"filter": "datum.type == 'IV'"}],
         "mark": {"type": "point", "filled": true, "color": "black", "size": 28, "opacity": 1, "shape": "triangle-down", "yOffset": -4, "clip": false},
         "encoding": {"x": {"field": "value", "type": "quantitative"}, "y": {"datum": 0, "type": "quantitative"}}}
      ]
    }
  ]
}
